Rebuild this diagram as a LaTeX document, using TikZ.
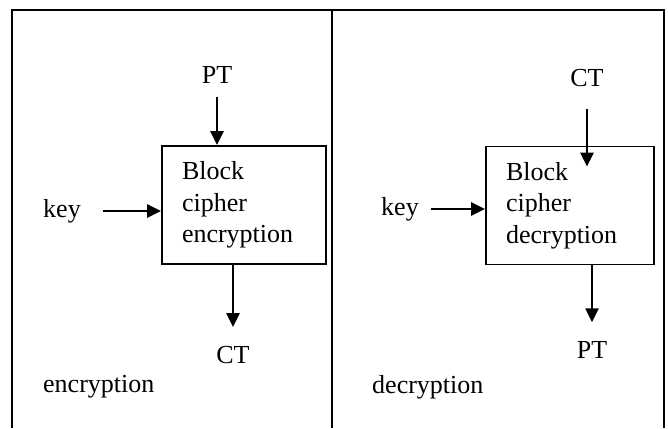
\documentclass[tikz,border=0pt]{standalone}
\usepackage{fontspec}
\setmainfont{Liberation Serif}
\usetikzlibrary{arrows.meta}
\begin{document}
\begin{tikzpicture}[x=1pt,y=-1pt,
  frameline/.style={line width=2.2pt},
  arr/.style={line width=2.4pt,-{Triangle[length=14pt,width=13pt]}},
  cipherbox/.style={draw,line width=1.8pt,minimum height=118pt,align=left,inner xsep=20pt,inner ysep=0pt,font=\fontsize{26}{31.5}\selectfont},
  lbl/.style={font=\fontsize{26}{31}\selectfont,inner sep=0pt}
]
\useasboundingbox (0,0) rectangle (668,428);
% frame
\draw[frameline] (12,428) -- (12,10) -- (664,10) -- (664,428);
\draw[frameline] (332,10) -- (332,428);

% encryption side
\node[cipherbox,text width=124pt,minimum width=164pt] (enc) at (244,205) {Block\\cipher\\encryption};
\node[lbl] (ptin) at (217,75) {PT};
\node[lbl] (keyenc) at (62,211) {key};
\node[lbl] (ctout) at (233,355) {CT};
\node[lbl,anchor=west] (enclbl) at (43,387) {encryption};
\draw[arr] ([yshift=-13pt]ptin.south) -- (ptin.south |- enc.north);
\draw[arr] ([xshift=22pt]keyenc.east) -- (enc.west |- keyenc.east);
\draw[arr] (ctout.north |- enc.south) -- ([yshift=19pt]ctout.north);

% decryption side
\node[cipherbox,text width=128pt,minimum width=168pt] (dec) at (570,205.5) {Block\\cipher\\decryption};
\node[lbl] (ctin) at (587,78) {CT};
\node[lbl] (keydec) at (400,209) {key};
\node[lbl] (ptout) at (592,350) {PT};
\node[lbl,anchor=west] (declbl) at (372,387) {decryption};
\draw[arr] ([yshift=-22pt]ctin.south) -- ([yshift=-21pt]ctin.south |- dec.north);
\draw[arr] ([xshift=12pt]keydec.east) -- (dec.west |- keydec.east);
\draw[arr] (ptout.north |- dec.south) -- ([yshift=19pt]ptout.north);
\end{tikzpicture}
\end{document}
